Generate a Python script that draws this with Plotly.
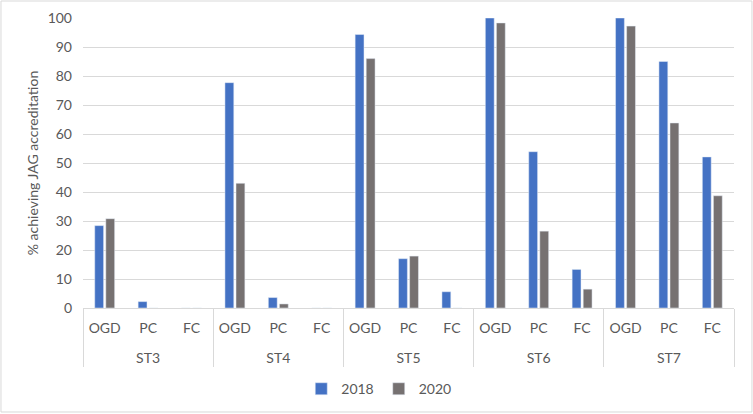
import plotly.graph_objects as go

stages = ["ST3", "ST4", "ST5", "ST6", "ST7"]
procedures = ["OGD", "PC", "FC"]
vals_2018 = [28.4, 2.2, 0, 77.7, 3.6, 0, 94.3, 17.0, 5.6, 100, 53.9, 13.3, 100, 85.0, 52.1]
vals_2020 = [30.8, 0, 0, 43.0, 1.4, 0, 86.0, 17.9, 0, 98.3, 26.5, 6.5, 97.2, 63.8, 38.7]

# inner labels get an empty second line so the stage row sits lower, like Excel
x_outer = [s for s in stages for _ in procedures]
x_inner = [p + "<br>\u00a0" for _ in stages for p in procedures]

font_family = "Lato, 'Open Sans', sans-serif"
text_col = "#595959"
grid_col = "#D9D9D9"

fig = go.Figure()
fig.add_trace(go.Bar(name="2018", x=[x_outer, x_inner], y=vals_2018, marker_color="#4472C4"))
fig.add_trace(go.Bar(name="2020", x=[x_outer, x_inner], y=vals_2020, marker_color="#767171"))

fig.update_layout(
    width=753, height=414,
    margin=dict(l=83, r=19, t=18, b=106),
    paper_bgcolor="white", plot_bgcolor="white",
    barmode="group", bargap=0.49, bargroupgap=0.2,
    font=dict(family=font_family, size=14, color=text_col),
    showlegend=True,
    legend=dict(orientation="h", xref="container", yref="container",
                x=0.503, xanchor="center", y=0.06, yanchor="middle",
                font=dict(size=14, color=text_col), itemwidth=30),
    yaxis=dict(range=[0, 100], dtick=10, showgrid=True, gridcolor=grid_col, gridwidth=1,
               zeroline=False, showline=False, ticks="", ticklabelstandoff=10, automargin=False,
               title=dict(text="% achieving JAG accreditation", font=dict(size=14, color=text_col), standoff=5),
               tickfont=dict(size=14, color=text_col)),
    xaxis=dict(type="multicategory", showgrid=False, showline=True, linecolor=grid_col, linewidth=1,
               showdividers=True, dividercolor=grid_col, dividerwidth=1, automargin=False,
               ticks="", ticklabelstandoff=7,
               tickfont=dict(size=14, color=text_col)),
    shapes=[dict(type="rect", xref="paper", yref="paper", x0=-0.126, x1=1.0276, y0=-0.3586, y1=1.0586,
                 line=dict(color="#D9D9D9", width=1), fillcolor="rgba(0,0,0,0)", layer="below")],
)

fig.write_html("out.html", config={"displayModeBar": False},
               post_script="document.body.style.margin='0';")
